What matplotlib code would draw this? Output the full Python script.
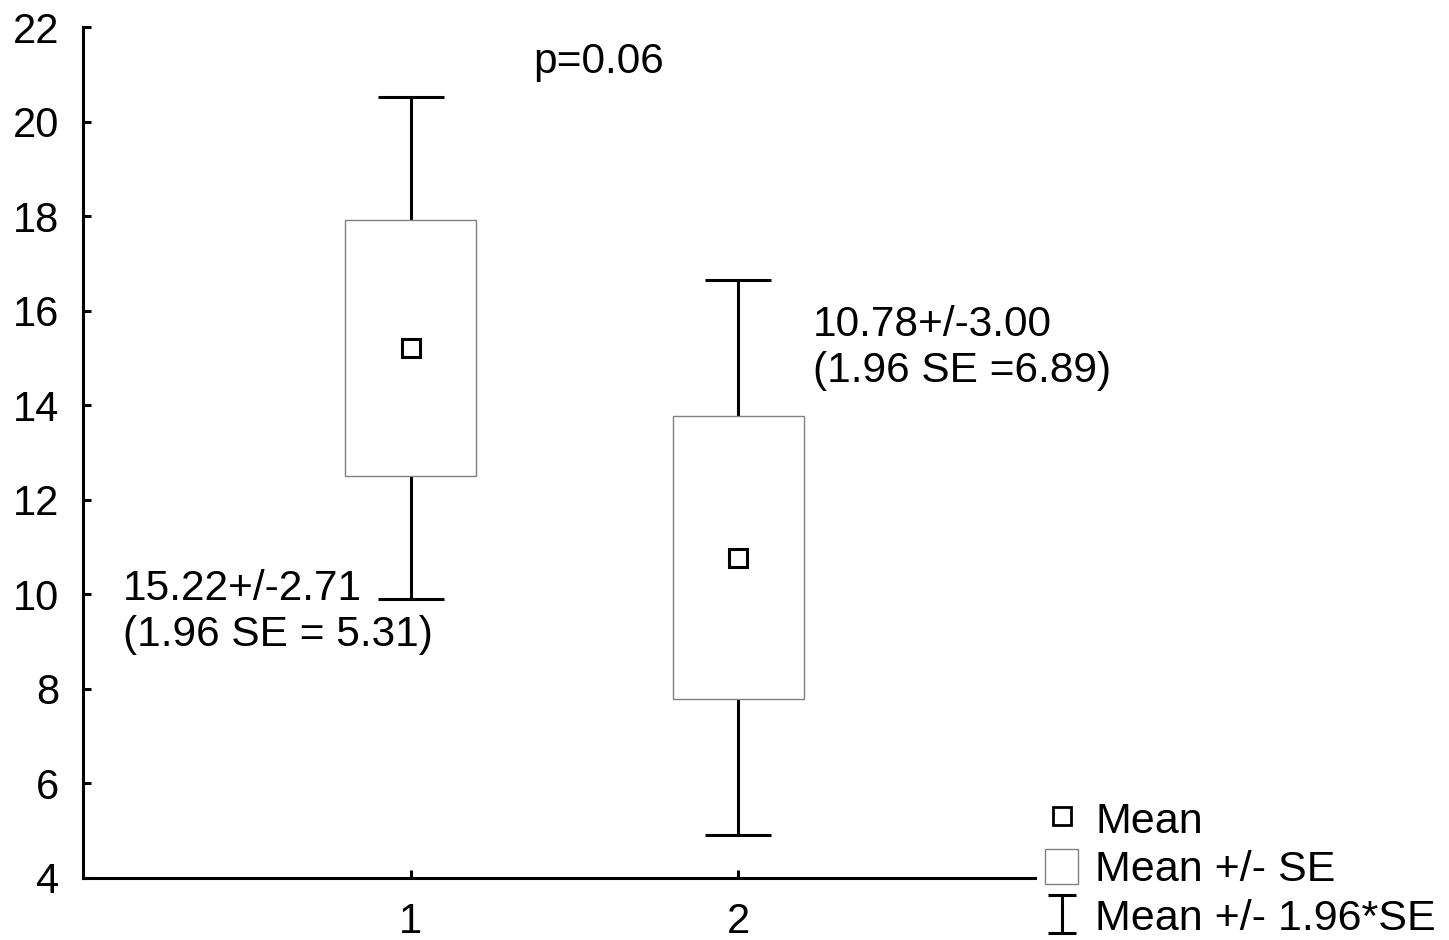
import matplotlib
matplotlib.use("Agg")
import matplotlib.pyplot as plt
from matplotlib.path import Path
from matplotlib.patches import Patch
from matplotlib.lines import Line2D
import numpy as np

plt.rcParams['font.family'] = ['Liberation Sans', 'DejaVu Sans']

groups = [1, 2]
means = [15.22, 10.78]
se = [2.71, 3.00]
ci196 = [5.31, 5.88]
ann_texts = ["15.22+/-2.71\n(1.96 SE = 5.31)", "10.78+/-3.00\n(1.96 SE =6.89)"]
p_text = "p=0.06"
yticks = [4, 6, 8, 10, 12, 14, 16, 18, 20, 22]

fig = plt.figure(figsize=(14.49, 9.40), dpi=100)
ax = fig.add_axes([0.0573, 0.066, 0.6570, 0.905])

x = np.array(groups, dtype=float)
m = np.array(means)
s = np.array(se)
c = np.array(ci196)

# whiskers (1.96*SE)
ax.errorbar(x, m, yerr=c, fmt='none', ecolor='black', elinewidth=2.2,
            capsize=23.5, capthick=2.2, zorder=1)
# boxes (mean +/- SE)
ax.bar(x, 2 * s, bottom=m - s, width=0.4, facecolor='white',
       edgecolor='#808080', linewidth=1.0, zorder=2)
# mean markers
ax.plot(x, m, linestyle='none', marker='s', markersize=13.5,
        markerfacecolor='white', markeredgecolor='black', markeredgewidth=2.2,
        zorder=3)

ax.set_xlim(0, 2.905)
ax.set_ylim(4, 22)
ax.set_xticks(groups)
ax.set_xticklabels([str(g) for g in groups])
ax.set_yticks(yticks)
for sp in ['top', 'right']:
    ax.spines[sp].set_visible(False)
for sp in ['left', 'bottom']:
    ax.spines[sp].set_linewidth(2.2)
ax.tick_params(axis='both', direction='in', length=6, width=2.2, labelsize=30)
ax.tick_params(axis='y', pad=17)
ax.tick_params(axis='x', pad=17)

ax.text(1.375, 21.26, p_text, fontsize=30.5, ha='left', va='center')
ax.text(0.122, 9.62, ann_texts[0], fontsize=30.5, ha='left', va='center',
        linespacing=1.2)
ax.text(2.226, 15.22, ann_texts[1], fontsize=30.5, ha='left', va='center',
        linespacing=1.2)

# legend
ibar = Path([(-0.35, -0.5), (0.35, -0.5), (0, -0.5), (0, 0.5), (-0.35, 0.5), (0.35, 0.5)],
            [Path.MOVETO, Path.LINETO, Path.MOVETO, Path.LINETO, Path.MOVETO, Path.LINETO])
h1 = Line2D([], [], linestyle='none', marker='s', markersize=13,
            markerfacecolor='white', markeredgecolor='black', markeredgewidth=2.0)
h2 = Patch(facecolor='white', edgecolor='#808080', linewidth=1.0)
h3 = Line2D([], [], linestyle='none', marker=ibar, markersize=28,
            markerfacecolor='none', markeredgecolor='black', markeredgewidth=2.2)
leg = fig.legend([h1, h2, h3], ['Mean', 'Mean +/- SE', 'Mean +/- 1.96*SE'],
                 loc='upper left', bbox_to_anchor=(0.721, 0.149),
                 frameon=False, fontsize=31, handlelength=0.78, handleheight=0.9,
                 handletextpad=0.39, labelspacing=0.16, borderpad=0, borderaxespad=0)

fig.savefig("out.png", dpi=100)
